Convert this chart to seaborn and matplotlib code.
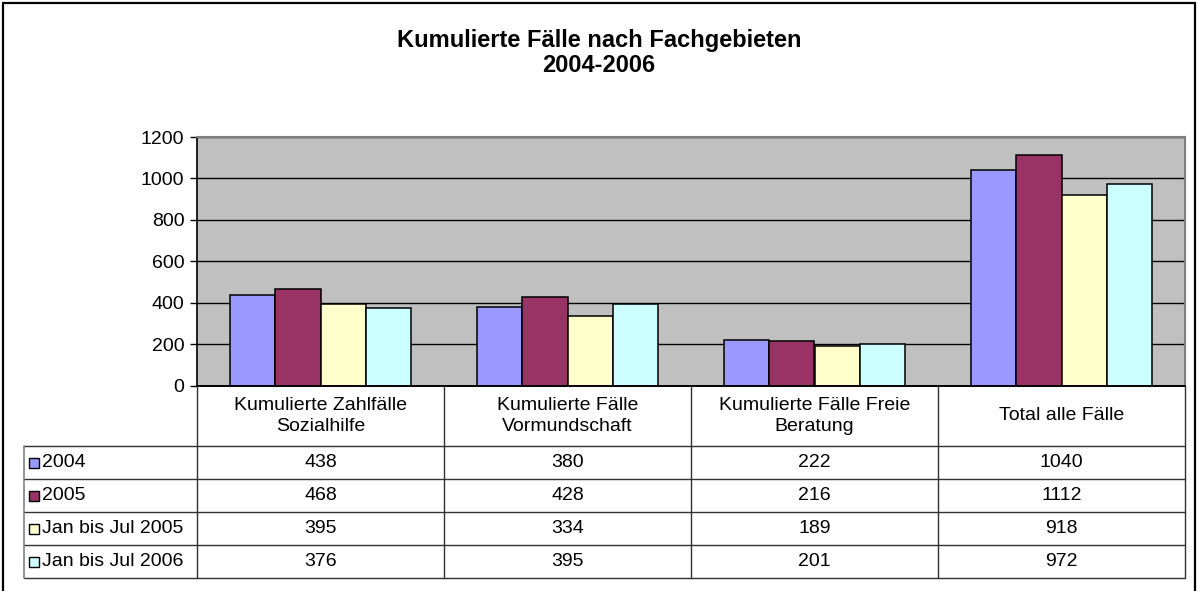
import matplotlib
matplotlib.use("Agg")
import matplotlib.pyplot as plt
from matplotlib.patches import Rectangle
from matplotlib.lines import Line2D
import seaborn as sns
import pandas as pd

# ---- data ----
categories = ["Kumulierte Zahlfälle\nSozialhilfe", "Kumulierte Fälle\nVormundschaft",
              "Kumulierte Fälle Freie\nBeratung", "Total alle Fälle"]
series_names = ["2004", "2005", "Jan bis Jul 2005", "Jan bis Jul 2006"]
values_2004 = [438, 380, 222, 1040]
values_2005 = [468, 428, 216, 1112]
values_jul2005 = [395, 334, 189, 918]
values_jul2006 = [376, 395, 201, 972]
all_values = [values_2004, values_2005, values_jul2005, values_jul2006]
colors = ["#9999FF", "#993366", "#FFFFCC", "#CCFFFF"]
title_lines = ["Kumulierte Fälle nach Fachgebieten", "2004-2006"]
y_ticks = [0, 200, 400, 600, 800, 1000, 1200]

sns.set_theme(style="white")
plt.rcParams["font.family"] = ["Liberation Sans", "DejaVu Sans"]
plt.rcParams["text.color"] = "black"
plt.rcParams["ytick.color"] = "black"

W, H = 1198, 591
fig = plt.figure(figsize=(W / 100, H / 100), dpi=100)

# plot area in pixel coords
pl, pr, pt, pb = 197, 1185, 137, 385.5
ax = fig.add_axes([pl / W, (H - pb) / H, (pr - pl) / W, (pb - pt) / H])

rows = []
for s, vals in zip(series_names, all_values):
    for c, v in zip(categories, vals):
        rows.append({"cat": c, "series": s, "val": v})
df = pd.DataFrame(rows)

sns.barplot(data=df, x="cat", y="val", hue="series", order=categories,
            hue_order=series_names, palette=colors, saturation=1, width=0.73,
            edgecolor="black", linewidth=1.1, legend=False, ax=ax, zorder=3)

ax.set_facecolor("#C0C0C0")
ax.set_xlim(-0.5, len(categories) - 0.5)
ax.set_ylim(0, 1200)
ax.set_yticks(y_ticks)
ax.set_yticklabels([str(t) for t in y_ticks], fontsize=14)
ax.set_xticks([])
ax.set_xlabel("")
ax.set_ylabel("")
ax.grid(axis="y", color="black", linewidth=1, zorder=1)
ax.set_axisbelow(True)
ax.tick_params(axis="y", left=True, length=5, width=1, color="black", pad=4, labelcolor="black")
for side in ["top", "right"]:
    ax.spines[side].set_color("#808080")
    ax.spines[side].set_linewidth(1.5)
for side in ["left", "bottom"]:
    ax.spines[side].set_color("black")
    ax.spines[side].set_linewidth(1.2)

# ---- title ----
fig.text(0.5, 1 - 40 / H, title_lines[0], ha="center", va="center",
         fontsize=17, fontweight="bold")
fig.text(0.5, 1 - 66 / H, title_lines[1], ha="center", va="center",
         fontsize=17, fontweight="bold")

# ---- data table (pixel-based positions) ----
def fx(x):
    return x / W

def fy(y):
    return 1 - y / H

line_col = "#303030"
col_edges = [pl + i * (pr - pl) / len(categories) for i in range(len(categories) + 1)]
header_bottom = 446
row_h = 33
row_tops = [header_bottom + i * row_h for i in range(len(series_names) + 1)]
table_left = 24

# horizontal lines
fig.add_artist(Line2D([fx(pl), fx(pr)], [fy(pb), fy(pb)], color="black", lw=1.2))
for y in row_tops:
    fig.add_artist(Line2D([fx(table_left), fx(pr)], [fy(y), fy(y)], color=line_col, lw=1))
# vertical lines
for x in col_edges:
    fig.add_artist(Line2D([fx(x), fx(x)], [fy(pb), fy(row_tops[-1])], color=line_col, lw=1))
fig.add_artist(Line2D([fx(table_left), fx(table_left)], [fy(header_bottom), fy(row_tops[-1])],
                      color="#808080", lw=1.2))

# header labels
for i, c in enumerate(categories):
    xc = (col_edges[i] + col_edges[i + 1]) / 2
    fig.text(fx(xc), fy((pb + header_bottom) / 2), c, ha="center", va="center",
             fontsize=14, linespacing=1.3)

# rows
for r, (s, vals, col) in enumerate(zip(series_names, all_values, colors)):
    yc = (row_tops[r] + row_tops[r + 1]) / 2
    fig.add_artist(Rectangle((fx(29), fy(yc + 5)), 10 / W, 10 / H, facecolor=col,
                             edgecolor="black", lw=1))
    fig.text(fx(42), fy(yc), s, ha="left", va="center", fontsize=14)
    for i, v in enumerate(vals):
        xc = (col_edges[i] + col_edges[i + 1]) / 2
        fig.text(fx(xc), fy(yc), str(v), ha="center", va="center", fontsize=14)

# outer chart border
fig.add_artist(Rectangle((fx(2.5), fy(H + 10)), (1195 - 2.5) / W, (H + 10 - 2.5) / H,
                         fill=False, edgecolor="black", lw=1.6))

fig.savefig("out.png", dpi=100, facecolor="white")
